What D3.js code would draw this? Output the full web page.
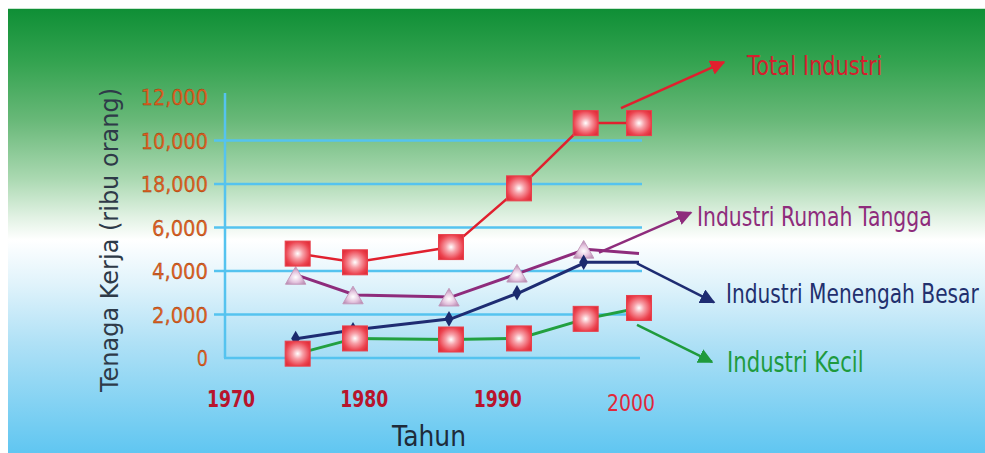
<!DOCTYPE html>
<html>
<head>
<meta charset="utf-8">
<script src="https://cdn.jsdelivr.net/npm/d3@7"></script>
<style>
  html, body { margin: 0; padding: 0; background: #ffffff; }
  svg { display: block; }
  text { font-family: "DejaVu Sans", "Noto Sans", sans-serif; }
</style>
</head>
<body>
<svg id="chart" width="985" height="453"></svg>
<script>
// Tenaga kerja industri (ribu orang)
const years = [1975.0, 1979.3, 1986.5, 1991.6, 1996.6, 2000.6];
const totalIndustri = [4800, 4400, 5100, 7800, 10800, 10800];
const rumahTangga = [3800, 2900, 2800, 3900, 5000, 4800];
const menengahBesar = [900, 1300, 1800, 3000, 4400, 4400];
const industriKecil = [200, 900, 850, 900, 1800, 2300];

const xTickValues = [1970, 1980, 1990, 2000];
const xTickLabels = ["1970", "1980", "1990", "2000"];
const yTickValues = [0, 2000, 4000, 6000, 8000, 10000, 12000];
const yTickLabels = ["0", "2,000", "4,000", "6,000", "18,000", "10,000", "12,000"];

const seriesNames = ["Total Industri", "Industri Rumah Tangga", "Industri Menengah Besar", "Industri Kecil"];

const svg = d3.select("#chart");
const W = 985, H = 453;

const x = d3.scaleLinear().domain([1970, 2000]).range([231, 631]);
const y = d3.scaleLinear().domain([0, 12000]).range([358, 97]);

// ---- gradients ----
const defs = svg.append("defs");
const bg = defs.append("linearGradient").attr("id", "bg")
  .attr("x1", 0).attr("y1", 0).attr("x2", 0).attr("y2", 1);
[
  [0.00, "#0f8f36"],
  [0.12, "#34a350"],
  [0.25, "#68b878"],
  [0.38, "#a9d8b0"],
  [0.47, "#e2f2e4"],
  [0.52, "#ffffff"],
  [0.62, "#e0f3fb"],
  [0.75, "#b0e1f6"],
  [0.88, "#86d3f3"],
  [1.00, "#60c6f1"]
].forEach(([o, c]) => bg.append("stop").attr("offset", o).attr("stop-color", c));

const sq = defs.append("radialGradient").attr("id", "sq").attr("cx", "50%").attr("cy", "50%").attr("r", "60%");
sq.append("stop").attr("offset", 0).attr("stop-color", "#ffffff");
sq.append("stop").attr("offset", 0.35).attr("stop-color", "#f7a0a8");
sq.append("stop").attr("offset", 0.8).attr("stop-color", "#ec4450");
sq.append("stop").attr("offset", 1).attr("stop-color", "#e2303c");

const tri = defs.append("radialGradient").attr("id", "tri").attr("cx", "50%").attr("cy", "60%").attr("r", "60%");
tri.append("stop").attr("offset", 0).attr("stop-color", "#ffffff");
tri.append("stop").attr("offset", 0.5).attr("stop-color", "#e4c4de");
tri.append("stop").attr("offset", 1).attr("stop-color", "#b17fa9");

// arrowheads for the callout arrows
const arrowColors = { red: "#e0202e", purple: "#8e2c7c", navy: "#1e2c72", green: "#1f9a3c" };
Object.entries(arrowColors).forEach(([k, c]) => {
  defs.append("marker").attr("id", "arrow-" + k)
    .attr("viewBox", "0 0 10 10").attr("refX", 9).attr("refY", 5)
    .attr("markerWidth", 6).attr("markerHeight", 6)
    .attr("markerUnits", "strokeWidth")
    .attr("orient", "auto")
    .append("path").attr("d", "M0,0 L10,5 L0,10 Z").attr("fill", c);
});

// ---- background panel ----
svg.append("rect").attr("x", 8).attr("y", 9).attr("width", W - 8).attr("height", H - 9)
  .attr("fill", "url(#bg)");
svg.append("line").attr("x1", 8).attr("x2", W).attr("y1", 8.5).attr("y2", 8.5)
  .attr("stroke", "#c8e6d0").attr("stroke-width", 1);

// ---- grid and axes ----
const gridColor = "#55c3ef";
const gridRight = 642;
svg.append("g").selectAll("line")
  .data(yTickValues.filter(v => v > 0 && v < 12000))
  .join("line")
  .attr("x1", 214).attr("x2", gridRight)
  .attr("y1", d => y(d)).attr("y2", d => y(d))
  .attr("stroke", gridColor).attr("stroke-width", 2.5);

svg.append("line").attr("x1", x(1970) - 6).attr("x2", x(1970) - 6)
  .attr("y1", y(12000) - 4).attr("y2", y(0))
  .attr("stroke", gridColor).attr("stroke-width", 2.5);
svg.append("line").attr("x1", x(1970) - 7).attr("x2", gridRight - 2)
  .attr("y1", y(0)).attr("y2", y(0))
  .attr("stroke", gridColor).attr("stroke-width", 2.5);

// y tick labels
svg.append("g").selectAll("text")
  .data(yTickValues)
  .join("text")
  .attr("x", 208)
  .attr("y", d => y(d) + 8)
  .attr("text-anchor", "end")
  .attr("font-size", 22)
  .attr("fill", "#e2611f")
  .attr("stroke", "#8a3a10").attr("stroke-width", 0.3)
  .attr("textLength", (d, i) => yTickLabels[i].length * 11.2)
  .attr("lengthAdjust", "spacingAndGlyphs")
  .text((d, i) => yTickLabels[i]);

// x tick labels
svg.append("g").selectAll("text")
  .data(xTickValues)
  .join("text")
  .attr("x", d => x(d))
  .attr("y", d => d === 2000 ? 411 : 407)
  .attr("text-anchor", "middle")
  .attr("font-size", 23)
  .attr("font-weight", d => d === 2000 ? "normal" : "bold")
  .attr("fill", d => d === 2000 ? "#e0283a" : "#b8142c")
  .attr("textLength", 48)
  .attr("lengthAdjust", "spacingAndGlyphs")
  .text((d, i) => xTickLabels[i]);

// axis titles
svg.append("text")
  .attr("transform", "translate(429,446) scale(1,1.1)")
  .attr("text-anchor", "middle")
  .attr("font-size", 25)
  .attr("fill", "#1e2b3a")
  .text("Tahun");

svg.append("text")
  .attr("transform", "translate(118,240) rotate(-90)")
  .attr("text-anchor", "middle")
  .attr("font-size", 24)
  .attr("fill", "#2e3a48")
  .text("Tenaga Kerja (ribu orang)");

// ---- series lines ----
const line = d3.line().x(d => x(d[0])).y(d => y(d[1]));
const pairs = vals => years.map((yr, i) => [yr, vals[i]]);

const plot = svg.append("g");
plot.append("path").datum(pairs(industriKecil)).attr("d", line)
  .attr("fill", "none").attr("stroke", "#22a040").attr("stroke-width", 3);
plot.append("path").datum(pairs(menengahBesar)).attr("d", line)
  .attr("fill", "none").attr("stroke", "#1e2c72").attr("stroke-width", 3);
plot.append("path").datum(pairs(rumahTangga)).attr("d", line)
  .attr("fill", "none").attr("stroke", "#8e2c7c").attr("stroke-width", 3);
plot.append("path").datum(pairs(totalIndustri)).attr("d", line)
  .attr("fill", "none").attr("stroke", "#e0202e").attr("stroke-width", 2.5);

// ---- markers ----
// Rumah tangga: triangles (no marker on the last year)
plot.append("g").selectAll("path")
  .data(pairs(rumahTangga).slice(0, 5))
  .join("path")
  .attr("transform", d => `translate(${x(d[0]) - 2},${y(d[1]) + 3})`)
  .attr("d", d3.symbol(d3.symbolTriangle).size(180))
  .attr("fill", "url(#tri)")
  .attr("stroke", "#c49bbd").attr("stroke-width", 1);

// Menengah besar: small diamonds (no marker on the last year)
plot.append("g").selectAll("path")
  .data(pairs(menengahBesar).slice(0, 5))
  .join("path")
  .attr("transform", d => `translate(${x(d[0]) - 2},${y(d[1])})`)
  .attr("d", d3.symbol(d3.symbolDiamond).size(70))
  .attr("fill", "#1a2a6e");

// Total & kecil: shaded squares
const squareSize = 25;
[totalIndustri, industriKecil].forEach(vals => {
  plot.append("g").selectAll("rect")
    .data(pairs(vals))
    .join("rect")
    .attr("x", d => x(d[0]) - squareSize / 2)
    .attr("y", d => y(d[1]) - squareSize / 2)
    .attr("width", squareSize).attr("height", squareSize)
    .attr("fill", "url(#sq)")
    .attr("stroke", "#e8404c").attr("stroke-width", 1);
});

// ---- callout arrows and series names ----
// names are set a little narrow and tall, like the rest of the lettering
const last = vals => [x(years[years.length - 1]), y(vals[vals.length - 1])];
const callouts = [
  { name: seriesNames[0], vals: totalIndustri, color: "red", from: [-18, -15], to: [85, -61], text: [108, -48], size: 21, fill: "#d41f2e" },
  { name: seriesNames[1], vals: rumahTangga, color: "purple", from: [-40, -1], to: [52, -41], text: [58, -28], size: 20.4, fill: "#8e2c7c" },
  { name: seriesNames[2], vals: menengahBesar, color: "navy", from: [-2, 1], to: [75, 40], text: [87, 41], size: 20.2, fill: "#22306e" },
  { name: seriesNames[3], vals: industriKecil, color: "green", from: [-2, 17], to: [73, 54], text: [88, 64], size: 21.2, fill: "#1e9a3e" }
];
const ann = svg.append("g");
callouts.forEach(c => {
  const [lx, ly] = last(c.vals);
  ann.append("line")
    .attr("x1", lx + c.from[0]).attr("y1", ly + c.from[1])
    .attr("x2", lx + c.to[0]).attr("y2", ly + c.to[1])
    .attr("stroke", arrowColors[c.color]).attr("stroke-width", 2.5)
    .attr("marker-end", `url(#arrow-${c.color})`);
  ann.append("text")
    .attr("transform", `translate(${lx + c.text[0]},${ly + c.text[1]}) scale(1,1.3)`)
    .attr("font-size", c.size)
    .attr("fill", c.fill)
    .text(c.name);
});
</script>
</body>
</html>
